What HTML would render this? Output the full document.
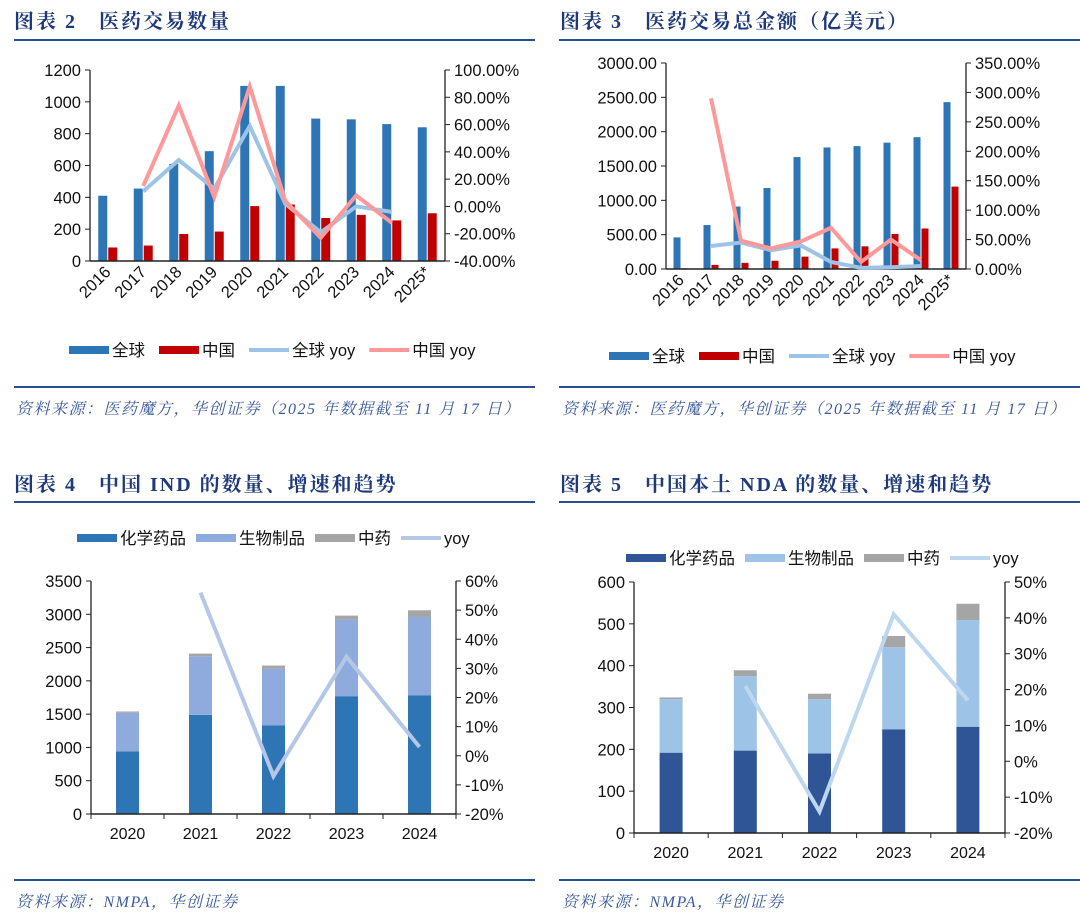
<!DOCTYPE html>
<html><head><meta charset="utf-8">
<style>
body{margin:0;background:#fff;width:1080px;height:923px;overflow:hidden;font-family:"Liberation Sans","Noto Sans CJK SC",sans-serif;}
svg{position:absolute;left:0;top:0}
.t{font-family:"Liberation Serif","Noto Serif CJK SC",serif;font-weight:bold;fill:#1f3a7a;font-size:20px;letter-spacing:2px}
.s{font-family:"Liberation Serif","Noto Serif CJK SC",serif;font-style:italic;fill:#3a5a9a;font-size:16px;letter-spacing:1.5px}
.k{font-size:16px;fill:#111}
.l{font-size:16.5px;fill:#111}
</style></head><body>
<svg id="svg" width="1080" height="923">
<text class="t" x="14" y="28">图表 2　医药交易数量</text>
<line x1="14" y1="40" x2="535" y2="40" stroke="#2a4f8f" stroke-width="2"/>
<line x1="14" y1="387" x2="535" y2="387" stroke="#2a4f8f" stroke-width="2"/>
<text class="s" x="16" y="414">资料来源：医药魔方，华创证券（2025 年数据截至 11 月 17 日）</text>
<text class="t" x="560" y="28">图表 3　医药交易总金额（亿美元）</text>
<line x1="559" y1="40" x2="1080" y2="40" stroke="#2a4f8f" stroke-width="2"/>
<line x1="559" y1="387" x2="1080" y2="387" stroke="#2a4f8f" stroke-width="2"/>
<text class="s" x="562" y="414">资料来源：医药魔方，华创证券（2025 年数据截至 11 月 17 日）</text>
<text class="t" x="14" y="491">图表 4　中国 IND 的数量、增速和趋势</text>
<line x1="14" y1="502" x2="535" y2="502" stroke="#2a4f8f" stroke-width="2"/>
<line x1="14" y1="880" x2="535" y2="880" stroke="#2a4f8f" stroke-width="2"/>
<text class="s" x="16" y="907">资料来源：NMPA，华创证券</text>
<text class="t" x="560" y="491">图表 5　中国本土 NDA 的数量、增速和趋势</text>
<line x1="559" y1="502" x2="1080" y2="502" stroke="#2a4f8f" stroke-width="2"/>
<line x1="559" y1="880" x2="1080" y2="880" stroke="#2a4f8f" stroke-width="2"/>
<text class="s" x="562" y="907">资料来源：NMPA，华创证券</text>
</svg>
<script>
const years10=["2016","2017","2018","2019","2020","2021","2022","2023","2024","2025*"];
const dealGlobal=[410,455,610,690,1100,1100,895,890,860,840];
const dealChina=[85,97,170,185,345,355,270,290,255,300];
const dealGlobalYoy=[null,11,34,13,59,2,-19,0,-4,null];
const dealChinaYoy=[null,15,74,7,88,4,-23,8,-12,null];
const amtGlobal=[460,640,910,1180,1630,1770,1790,1840,1920,2430];
const amtChina=[10,60,90,120,180,300,330,510,590,1200];
const amtGlobalYoy=[null,39,45,32,40,12,2,3,5,null];
const amtChinaYoy=[null,290,48,35,47,70,12,50,15,null];
const years5=["2020","2021","2022","2023","2024"];
const indChem=[940,1490,1330,1770,1780];
const indBio=[580,880,850,1150,1180];
const indTcm=[20,40,50,60,100];
const indYoy=[null,56,-7,34,3];
const ndaChem=[192,197,190,248,254];
const ndaBio=[128,178,130,196,255];
const ndaTcm=[4,14,13,27,39];
const ndaYoy=[null,21,-14,41,17];
const tick1L=["0","200","400","600","800","1000","1200"];
const tick1R=["-40.00%","-20.00%","0.00%","20.00%","40.00%","60.00%","80.00%","100.00%"];
const tick2L=["0.00","500.00","1000.00","1500.00","2000.00","2500.00","3000.00"];
const tick2R=["0.00%","50.00%","100.00%","150.00%","200.00%","250.00%","300.00%","350.00%"];
const tick3L=["0","500","1000","1500","2000","2500","3000","3500"];
const tick3R=["-20%","-10%","0%","10%","20%","30%","40%","50%","60%"];
const tick4L=["0","100","200","300","400","500","600"];
const tick4R=["-20%","-10%","0%","10%","20%","30%","40%","50%"];

const svg=document.getElementById('svg');
const NS='http://www.w3.org/2000/svg';
function mk(tag,at,parent){const e=document.createElementNS(NS,tag);for(const k in at)e.setAttribute(k,at[k]);(parent||svg).appendChild(e);return e;}
function txt(s,at,parent){const e=mk('text',at,parent);e.textContent=s;return e;}

function chart(c){
  const g=mk('g',{});
  
  
  const yL=v=>c.y0-(v-c.lmin)/(c.lmax-c.lmin)*(c.y0-c.y1);
  const yR=v=>c.y0-(v-c.rmin)/(c.rmax-c.rmin)*(c.y0-c.y1);
  const n=c.cats.length, step=(c.x1-c.x0)/n;
  const cx=i=>c.x0+step*(i+0.5);
  mk('line',{x1:c.x0,y1:c.y1,x2:c.x0,y2:c.y0,stroke:'#222','stroke-width':1.3},g);
  mk('line',{x1:c.x1,y1:c.y1,x2:c.x1,y2:c.y0,stroke:'#222','stroke-width':1.3},g);
  c.tl.forEach((t,i)=>{const y=yL(c.lmin+i*(c.lmax-c.lmin)/(c.tl.length-1));
    mk('line',{x1:c.x0-5,y1:y,x2:c.x0,y2:y,stroke:'#222'},g);
    const e=txt(t,{x:c.x0-9,y:y+6,'text-anchor':'end',class:'l'},g);
    
    });
  c.tr.forEach((t,i)=>{const y=yR(c.rmin+i*(c.rmax-c.rmin)/(c.tr.length-1));
    mk('line',{x1:c.x1,y1:y,x2:c.x1+5,y2:y,stroke:'#222'},g);
    const e=txt(t,{x:c.x1+9,y:y+6,class:'l'},g);
    
    });
  if(c.grouped){
    c.grouped.forEach((s,si)=>{s.vals.forEach((v,i)=>{
      const x=cx(i)+(si===0?-c.bw-0.5:0.5);
      const r=mk('rect',{x:x,y:yL(v),width:c.bw,height:c.y0-yL(v),fill:s.color},g);
      
      });});
  }
  if(c.stacked){
    c.cats.forEach((_,i)=>{let base=0;c.stacked.forEach(s=>{const v=s.vals[i];
      const r=mk('rect',{x:cx(i)-c.bw/2,y:yL(base+v),width:c.bw,height:yL(base)-yL(base+v),fill:s.color},g);
      
      
      base+=v;});});
  }
  mk('line',{x1:c.x0,y1:c.y0,x2:c.x1,y2:c.y0,stroke:'#222','stroke-width':1.5},g);
  if(c.catTicks){for(let i=0;i<=n;i++)mk('line',{x1:c.x0+step*i,y1:c.y0,x2:c.x0+step*i,y2:c.y0+5,stroke:'#222'},g);}
  c.lines.forEach(s=>{const pts=[];s.vals.forEach((v,i)=>{if(v!==null)pts.push(cx(i)+','+yR(v));});
    const p=mk('polyline',{points:pts.join(' '),fill:'none',stroke:s.color,'stroke-width':4,'stroke-linejoin':'miter'},g);
    
    });
  c.cats.forEach((t,i)=>{let e;
    if(c.rot){e=txt(t,{x:cx(i)+4,y:c.y0+12,'text-anchor':'end',class:'l',transform:`rotate(-45 ${cx(i)+4} ${c.y0+12})`},g);}
    else e=txt(t,{x:cx(i),y:c.y0+25,'text-anchor':'middle',class:'k'},g);
    
    });
  let x=c.lx;
  c.legend.forEach(it=>{const lg=mk('g',{},g);
    
    
    if(it.line)mk('line',{x1:x,y1:c.ly,x2:x+40,y2:c.ly,stroke:it.color,'stroke-width':4},lg);
    else mk('rect',{x:x,y:c.ly-4,width:40,height:8,fill:it.color},lg);
    const e=txt(it.label,{x:x+43,y:c.ly+6,class:'l'},lg);
    x+=43+e.getComputedTextLength()+c.lgap;});
}
chart({name:'chart2-deal-count',x0:90,x1:445,y0:261,y1:70,lmin:0,lmax:1200,rmin:-40,rmax:100,tl:tick1L,tr:tick1R,cats:years10,bw:9,rot:true,
 grouped:[{key:'global',vals:dealGlobal,color:'#2e75b6'},{key:'china',vals:dealChina,color:'#c00000'}],
 lines:[{key:'global-yoy',vals:dealGlobalYoy,color:'#9dc3e6'},{key:'china-yoy',vals:dealChinaYoy,color:'#ff9999'}],
 lx:69,ly:350,lgap:14,legend:[{label:'全球',color:'#2e75b6'},{label:'中国',color:'#c00000'},{label:'全球 yoy',color:'#9dc3e6',line:1},{label:'中国 yoy',color:'#ff9999',line:1}]});
chart({name:'chart3-deal-amount',x0:666,x1:966,y0:269,y1:63,lmin:0,lmax:3000,rmin:0,rmax:350,tl:tick2L,tr:tick2R,cats:years10,bw:7,rot:true,
 grouped:[{key:'global',vals:amtGlobal,color:'#2e75b6'},{key:'china',vals:amtChina,color:'#c00000'}],
 lines:[{key:'global-yoy',vals:amtGlobalYoy,color:'#9dc3e6'},{key:'china-yoy',vals:amtChinaYoy,color:'#ff9999'}],
 lx:609,ly:356,lgap:14,legend:[{label:'全球',color:'#2e75b6'},{label:'中国',color:'#c00000'},{label:'全球 yoy',color:'#9dc3e6',line:1},{label:'中国 yoy',color:'#ff9999',line:1}]});
chart({name:'chart4-ind',x0:91,x1:456,y0:814,y1:581,lmin:0,lmax:3500,rmin:-20,rmax:60,tl:tick3L,tr:tick3R,cats:years5,bw:23,catTicks:true,
 stacked:[{key:'chem',vals:indChem,color:'#2e75b6'},{key:'bio',vals:indBio,color:'#8faadc'},{key:'tcm',vals:indTcm,color:'#a5a5a5'}],
 lines:[{key:'yoy',vals:indYoy,color:'#b4c7e7'}],
 lx:77,ly:538,lgap:10,legend:[{label:'化学药品',color:'#2e75b6'},{label:'生物制品',color:'#8faadc'},{label:'中药',color:'#a5a5a5'},{label:'yoy',color:'#b4c7e7',line:1}]});
chart({name:'chart5-nda',x0:634,x1:1005,y0:833,y1:582,lmin:0,lmax:600,rmin:-20,rmax:50,tl:tick4L,tr:tick4R,cats:years5,bw:23,catTicks:true,
 stacked:[{key:'chem',vals:ndaChem,color:'#2f5597'},{key:'bio',vals:ndaBio,color:'#9dc3e6'},{key:'tcm',vals:ndaTcm,color:'#a5a5a5'}],
 lines:[{key:'yoy',vals:ndaYoy,color:'#bdd7ee'}],
 lx:626,ly:558,lgap:10,legend:[{label:'化学药品',color:'#2f5597'},{label:'生物制品',color:'#9dc3e6'},{label:'中药',color:'#a5a5a5'},{label:'yoy',color:'#bdd7ee',line:1}]});
</script>
</body></html>
